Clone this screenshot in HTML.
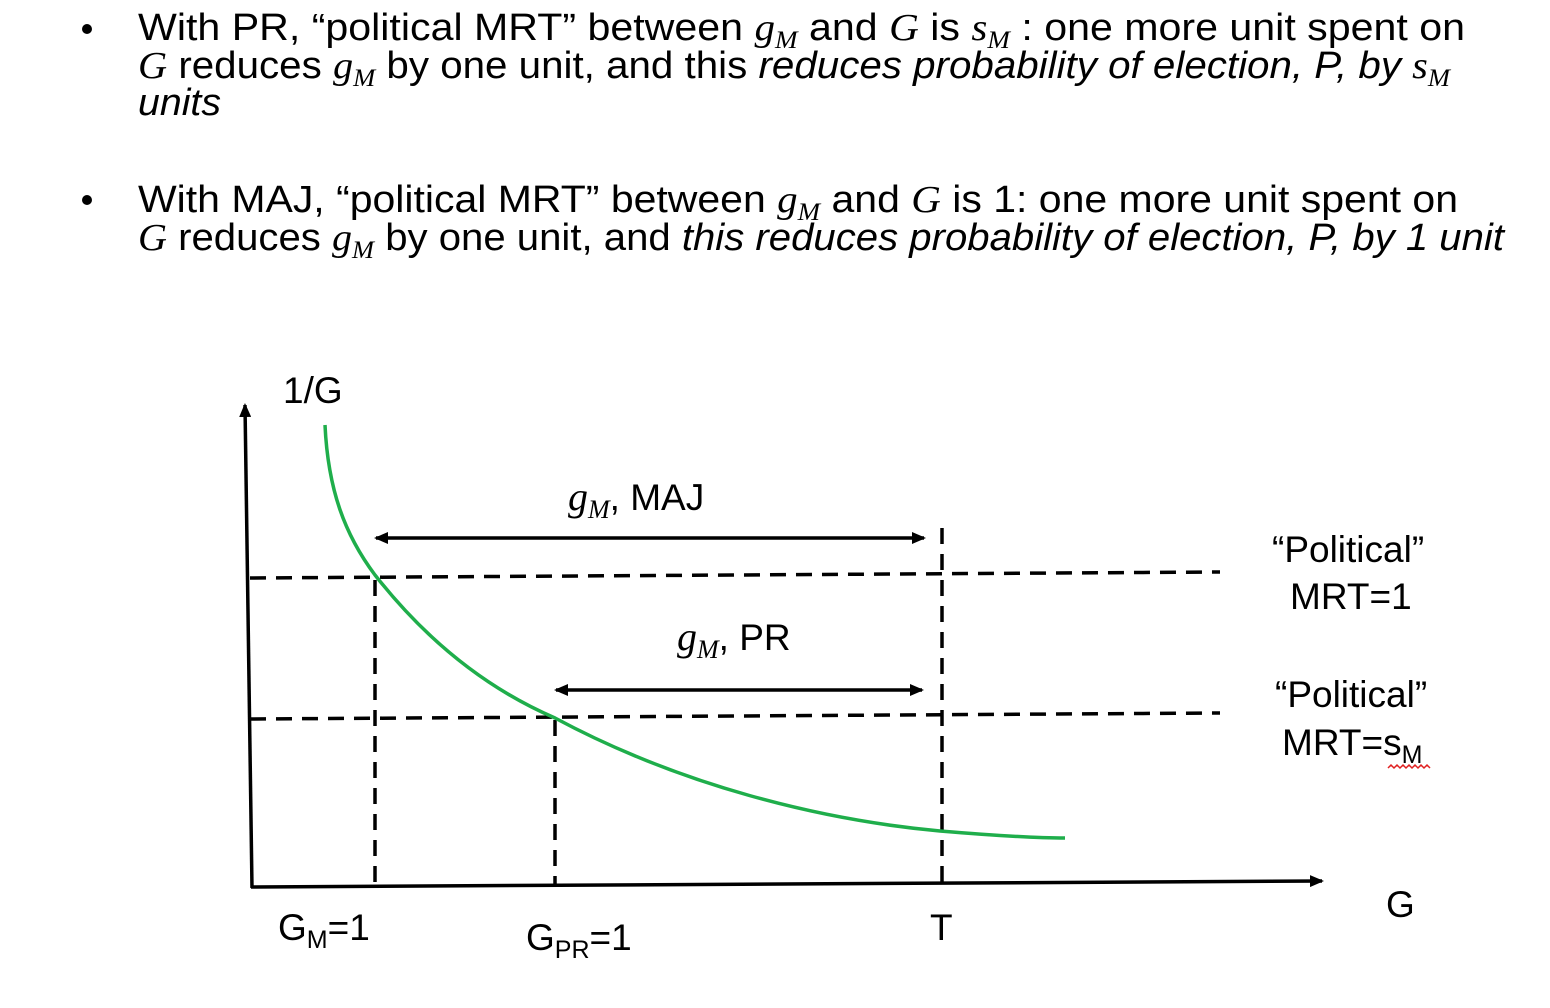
<!DOCTYPE html>
<html><head><meta charset="utf-8"><style>
html,body{margin:0;padding:0;background:#fff;}
svg{display:block;}
text{font-family:"Liberation Sans",Arial,sans-serif;fill:#000;}
.m{font-family:"Liberation Serif","DejaVu Serif",serif;font-style:italic;}
.i{font-style:italic;}
</style></head><body>
<svg width="1550" height="1008" viewBox="0 0 1550 1008" xmlns="http://www.w3.org/2000/svg">
<defs>
<marker id="ah" markerWidth="14" markerHeight="12" refX="12" refY="6" orient="auto-start-reverse" markerUnits="userSpaceOnUse"><path d="M0,0 L14,6 L0,12 z" fill="#000"/></marker>
</defs>
<circle cx="87" cy="29" r="5"/>
<circle cx="87" cy="200" r="5"/>
<g font-size="38">
<text x="138" y="40" textLength="1327" lengthAdjust="spacingAndGlyphs">With PR, “political MRT” between <tspan class="m">g<tspan font-size="25" dy="8">M</tspan></tspan><tspan dy="-8">  and </tspan><tspan class="m">G</tspan>  is <tspan class="m">s<tspan font-size="25" dy="8">M</tspan></tspan><tspan dy="-8"> :  one more unit spent  on</tspan></text>
<text x="138" y="78" textLength="1312" lengthAdjust="spacingAndGlyphs"><tspan class="m">G</tspan>  reduces <tspan class="m">g<tspan font-size="25" dy="8">M</tspan></tspan><tspan dy="-8"> by one unit, and this </tspan><tspan class="i">reduces probability of election, P, by </tspan><tspan class="m">s<tspan font-size="25" dy="8">M</tspan></tspan></text>
<text x="138" y="115" class="i" textLength="83" lengthAdjust="spacingAndGlyphs">units</text>
<text x="138" y="212" textLength="1320" lengthAdjust="spacingAndGlyphs">With MAJ, “political MRT” between <tspan class="m">g<tspan font-size="25" dy="8">M</tspan></tspan><tspan dy="-8">  and </tspan><tspan class="m">G</tspan>  is 1:  one more unit spent  on</text>
<text x="138" y="250" textLength="1366" lengthAdjust="spacingAndGlyphs"><tspan class="m">G</tspan>  reduces <tspan class="m">g<tspan font-size="25" dy="8">M</tspan></tspan><tspan dy="-8"> by one unit, and </tspan><tspan class="i">this reduces probability of election, P, by 1 unit</tspan></text>
</g>
<line x1="252" y1="888" x2="245" y2="405" stroke="#000" stroke-width="3.5" marker-end="url(#ah)"/>
<line x1="251" y1="887" x2="1322" y2="881" stroke="#000" stroke-width="3.5" marker-end="url(#ah)"/>
<g stroke="#000" stroke-width="3.5" stroke-dasharray="16,10" fill="none">
<line x1="250" y1="578" x2="1220" y2="572"/>
<line x1="250" y1="719" x2="1220" y2="713"/>
<line x1="375" y1="580" x2="375" y2="886"/>
<line x1="555" y1="720" x2="555" y2="884"/>
<line x1="942" y1="528" x2="942" y2="882"/>
</g>
<path d="M325,425 C328,490 345,535 375,575 C430,645 490,690 555,718 C680,785 820,820 940,831 C1000,836 1040,838 1065,838" stroke="#1fae4b" stroke-width="3.5" fill="none"/>
<line x1="376" y1="538" x2="924" y2="538" stroke="#000" stroke-width="3.5" marker-start="url(#ah)" marker-end="url(#ah)"/>
<line x1="556" y1="690" x2="922" y2="690" stroke="#000" stroke-width="3.5" marker-start="url(#ah)" marker-end="url(#ah)"/>
<g font-size="37">
<text x="283" y="403">1/G</text>
<text x="568" y="510"><tspan class="m" font-size="40">g<tspan font-size="26" dy="8">M</tspan></tspan><tspan dy="-8">, MAJ</tspan></text>
<text x="677" y="650"><tspan class="m" font-size="40">g<tspan font-size="26" dy="8">M</tspan></tspan><tspan dy="-8">, PR</tspan></text>
<text x="1272" y="562">“Political”</text>
<text x="1290" y="609">MRT=1</text>
<text x="1275" y="707">“Political”</text>
<text x="1282" y="755">MRT=s<tspan font-size="25" dy="8">M</tspan></text>
<text x="1386" y="917">G</text>
<text x="278" y="940">G<tspan font-size="25" dy="8">M</tspan><tspan dy="-8">=1</tspan></text>
<text x="526" y="950">G<tspan font-size="25" dy="8">PR</tspan><tspan dy="-8">=1</tspan></text>
<text x="930" y="940">T</text>
</g>
<path d="M1388,768 l3,-3 l3,3 l3,-3 l3,3 l3,-3 l3,3 l3,-3 l3,3 l3,-3 l3,3 l3,-3 l3,3 l3,-3 l3,3" stroke="#e02020" stroke-width="1.5" fill="none"/>
</svg>
</body></html>
